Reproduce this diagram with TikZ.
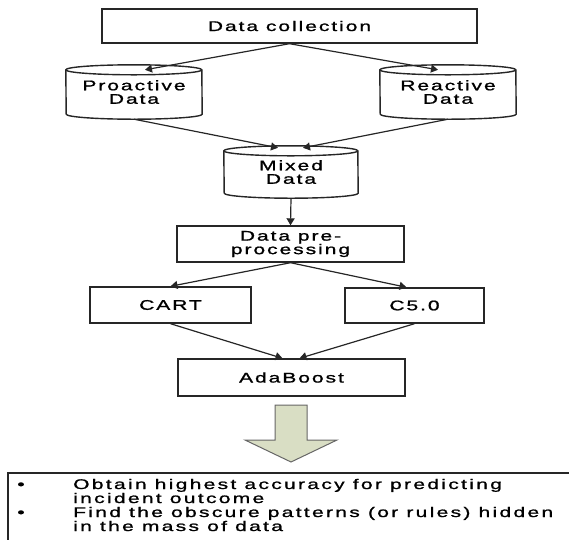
\documentclass[tikz,border=0pt]{standalone}
\usepackage{fontspec}
\setmainfont{Liberation Sans}[FakeStretch=1.5,LetterSpace=14,FakeBold=1.2]
\newfontfamily\listfont{Liberation Sans}[FakeStretch=1.5,LetterSpace=16.5,FakeBold=1.2]
\usetikzlibrary{arrows.meta,calc}
\newcommand\myfs{\fontsize{14}{13.5}\selectfont}
\newcommand\mycyl[3]{%
  \draw[ln] ([yshift=-#3]#1.north west) arc[start angle=180,end angle=0,x radius=#2,y radius=#3]
     -- ([yshift=#3]#1.south east) arc[start angle=0,end angle=-180,x radius=#2,y radius=#3] -- cycle;
  \draw[ln] ([yshift=-#3]#1.north west) arc[start angle=180,end angle=360,x radius=#2,y radius=#3];
}
\definecolor{arrowfill}{RGB}{217,222,196}
\begin{document}
\begin{tikzpicture}[x=1pt,y=-1pt,
  ln/.style={draw=black!85,line width=1.4pt},
  box/.style={ln,rectangle,inner sep=0pt,align=center,font=\myfs},
  cyltxt/.style={inner sep=0pt,align=center,font=\myfs},
  txt/.style={inner sep=0pt,font=\listfont\myfs},
  con/.style={draw=black!85,line width=1.2pt,-{Triangle[length=7pt,width=8pt]}},
]
\useasboundingbox (0,0) rectangle (569,539);
\clip (0,0) rectangle (569,539);

\node[box,minimum width=375pt,minimum height=34pt] (dc) at (289.5,26) {Data collection};
\node[cyltxt,minimum width=136pt,minimum height=54pt] (pro) at (134,92) {Proactive\\Data};
\mycyl{pro}{68pt}{5pt}
\node[cyltxt,minimum width=136pt,minimum height=54pt] (rea) at (448,92) {Reactive\\Data};
\mycyl{rea}{68pt}{5pt}
\node[cyltxt,minimum width=134pt,minimum height=52pt] (mix) at (291,172) {Mixed\\Data};
\mycyl{mix}{67pt}{5pt}
\node[box,minimum width=227pt,minimum height=36pt] (pre) at (290.5,244) {Data pre-\\processing};
\node[box,minimum width=161pt,minimum height=36pt] (cart) at (170.5,305) {CART};
\node[box,minimum width=139pt,minimum height=35pt] (c5) at (414.5,305.5) {C5.0};
\node[box,minimum width=227pt,minimum height=37pt] (ada) at (291.5,377.5) {AdaBoost};

\draw[con] (dc.south) -- ([xshift=11pt,yshift=-5pt]pro.north);
\draw[con] (dc.south) -- ([xshift=-10pt,yshift=-5pt]rea.north);
\draw[con] (pro.south) -- ([xshift=-13pt,yshift=-2pt]mix.north);
\draw[con] (rea.south) -- ([xshift=12pt,yshift=-2pt]mix.north);
\draw[con] (mix.south) -- (pre.north);
\draw[con] (pre.south) -- (cart.north);
\draw[con] (pre.south) -- ([xshift=-8pt]c5.north);
\draw[con] (cart.south) -- ([xshift=-9pt]ada.north);
\draw[con] (c5.south) -- ([xshift=8pt]ada.north);

\draw[draw=black!60,line width=1pt,fill=arrowfill,line join=miter]
  (275,405) -- (307,405) -- (307,440) -- (337,440) -- (291,462) -- (245,440) -- (275,440) -- cycle;

\draw[ln] (8,473) rectangle (600,560);
\node[txt,anchor=base] (b1) at (21,489) {•};
\node[txt,anchor=base] (b2) at (21,517) {•};
\node[txt,anchor=base west] (l1) at (73,489) {Obtain highest accuracy for predicting};
\node[txt,anchor=base west] (l2) at (73,503) {incident outcome};
\node[txt,anchor=base west] (l3) at (73,517) {Find the obscure patterns (or rules) hidden};
\node[txt,anchor=base west] (l4) at (73,531) {in the mass of data};
\end{tikzpicture}
\end{document}
